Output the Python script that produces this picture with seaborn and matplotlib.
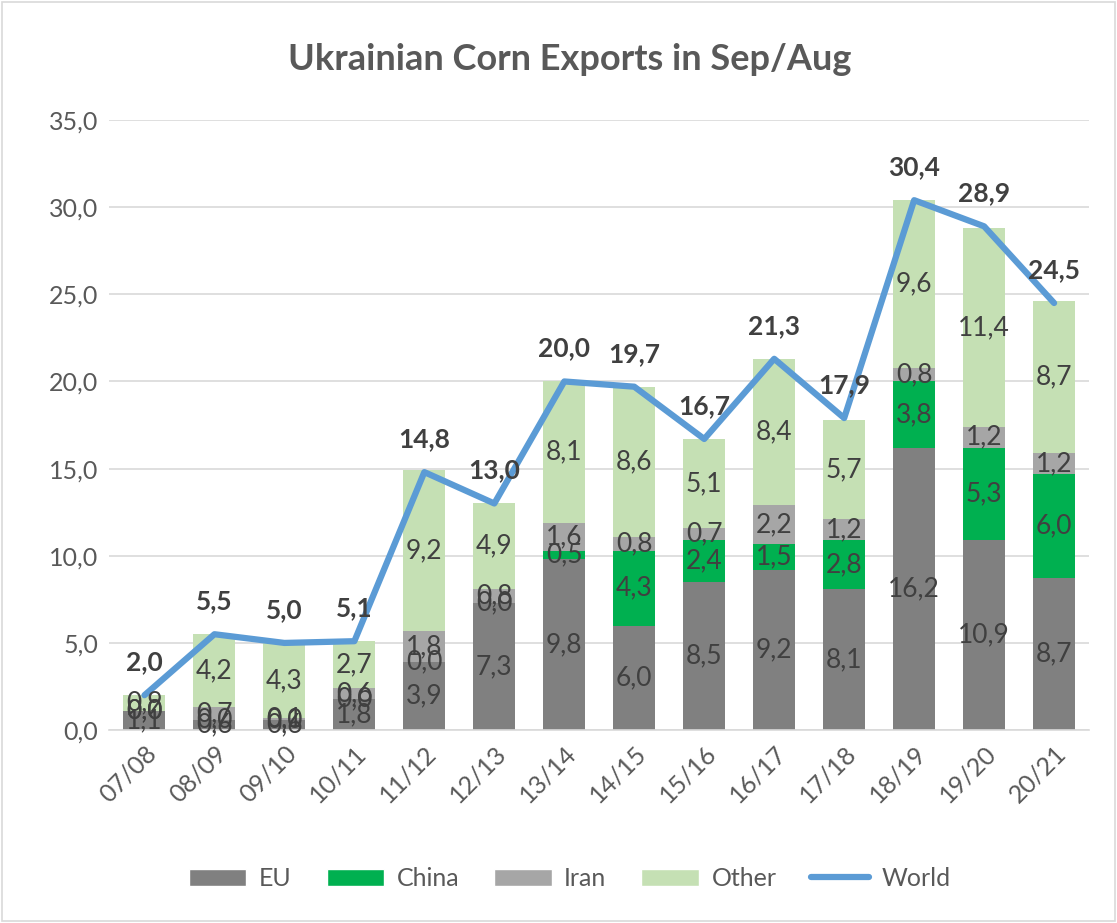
import matplotlib
matplotlib.use("Agg")
import matplotlib.pyplot as plt
import seaborn as sns
import numpy as np
import pandas as pd
from matplotlib.patches import Patch, Rectangle
from matplotlib.lines import Line2D

seasons = ["07/08", "08/09", "09/10", "10/11", "11/12", "12/13", "13/14",
           "14/15", "15/16", "16/17", "17/18", "18/19", "19/20", "20/21"]
eu = [1.1, 0.6, 0.6, 1.8, 3.9, 7.3, 9.8, 6.0, 8.5, 9.2, 8.1, 16.2, 10.9, 8.7]
china = [0.0, 0.0, 0.0, 0.0, 0.0, 0.0, 0.5, 4.3, 2.4, 1.5, 2.8, 3.8, 5.3, 6.0]
iran = [0.0, 0.7, 0.1, 0.6, 1.8, 0.8, 1.6, 0.8, 0.7, 2.2, 1.2, 0.8, 1.2, 1.2]
other = [0.9, 4.2, 4.3, 2.7, 9.2, 4.9, 8.1, 8.6, 5.1, 8.4, 5.7, 9.6, 11.4, 8.7]
world = [2.0, 5.5, 5.0, 5.1, 14.8, 13.0, 20.0, 19.7, 16.7, 21.3, 17.9, 30.4, 28.9, 24.5]

series_names = ["EU", "China", "Iran", "Other"]
series_vals = [eu, china, iran, other]
colors = {"EU": "#808080", "China": "#00B050", "Iran": "#A6A6A6", "Other": "#C5E0B4"}
line_color = "#5B9BD5"
txt = "#404040"
fs = 19

sns.set_theme(style="white")
plt.rcParams["font.family"] = ["Lato", "DejaVu Sans"]

fig = plt.figure(figsize=(11.17, 9.23), dpi=100)
ax = fig.add_axes([0.098, 0.209, 0.877, 0.661])

df = pd.DataFrame({"season": seasons})
bottom = np.zeros(len(seasons))
for name, vals in zip(series_names, series_vals):
    vals = np.array(vals)
    sns.barplot(x=df["season"], y=vals, bottom=bottom, color=colors[name],
                width=0.6, ax=ax, saturation=1, order=seasons, linewidth=0)
    for i, v in enumerate(vals):
        ax.text(i, bottom[i] + v / 2, f"{v:.1f}".replace(".", ","),
                ha="center", va="center", fontsize=fs, color=txt)
    bottom = bottom + vals

xpos = np.arange(len(seasons))
sns.lineplot(x=xpos, y=world, color=line_color, linewidth=4.5, ax=ax)
for i, v in enumerate(world):
    ax.text(i, v + 1.2, f"{v:.1f}".replace(".", ","), ha="center", va="bottom",
            fontsize=fs, fontweight="bold", color=txt)

ax.set_ylim(0, 35)
ax.set_xlim(-0.5, len(seasons) - 0.5)
ax.set_yticks(np.arange(0, 36, 5))
ax.set_yticklabels([f"{t:.1f}".replace(".", ",") for t in np.arange(0, 36, 5)],
                   fontsize=18, color="#595959")
ax.set_xticks(xpos)
ax.set_xticklabels(seasons, rotation=45, ha="right", rotation_mode="anchor",
                   fontsize=18, color="#595959")
ax.set_xlabel("")
ax.set_ylabel("")
ax.yaxis.grid(True, color="#D9D9D9", linewidth=1.2)
ax.set_axisbelow(True)
for s in ["top", "right", "left"]:
    ax.spines[s].set_visible(False)
ax.spines["bottom"].set_color("#D9D9D9")
ax.spines["bottom"].set_linewidth(1.2)
ax.tick_params(axis="both", length=0, pad=8)

fig.text(0.51, 0.935, "Ukrainian Corn Exports in Sep/Aug", ha="center", va="center",
         fontsize=26, fontweight="bold", color="#595959")

handles = [Patch(facecolor=colors[n], label=n) for n in series_names]
handles.append(Line2D([0], [0], color=line_color, linewidth=4.5, label="World"))
fig.legend(handles=handles, loc="center", bbox_to_anchor=(0.51, 0.048), ncol=5,
           frameon=False, fontsize=18, labelcolor="#595959",
           handlelength=2.3, handleheight=0.7, columnspacing=1.4, handletextpad=0.5)

fig.add_artist(Rectangle((0.002, 0.002), 0.996, 0.996, transform=fig.transFigure,
                         fill=False, edgecolor="#D9D9D9", linewidth=1.2))

fig.savefig("out.png", dpi=100)
